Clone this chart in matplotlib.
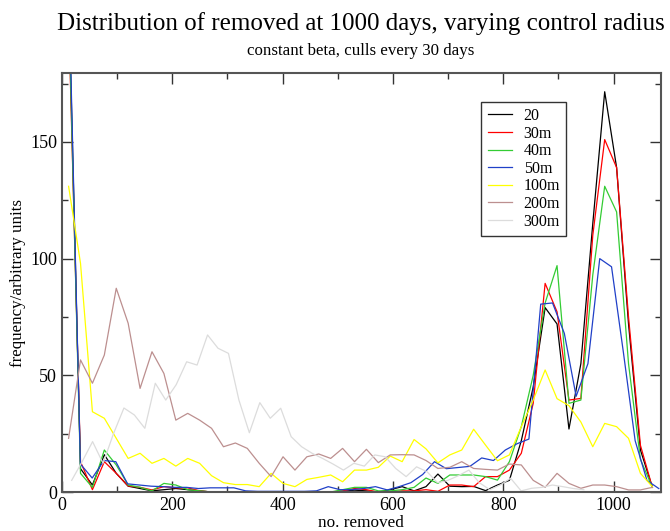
import matplotlib
matplotlib.use("Agg")
import matplotlib.pyplot as plt
import numpy as np
from matplotlib.ticker import MultipleLocator

plt.rcParams['font.family'] = ['Liberation Serif', 'DejaVu Serif']

# bin centres (no. removed) for each run
removed = 12 + 21.6 * np.arange(50)
removed_50m = 12 + 21.4 * np.arange(51)
removed_300m = 17.6 + 18.95 * np.arange(50)

r20 = [215, 10, 3, 16, 8, 2.5, 1.5, 0.5, 1, 1.5, 1, 0.5, 0, 0, 0, 0, 0, 0, 0, 0,
       0, 0, 0, 0.3, 0.8, 0.5, 0, 1, 2.3, 0.5, 2.3, 7.7, 2.5, 2.3, 2.4, 0.6, 3, 5, 22, 45,
       79, 72, 27, 55, 115, 171.5, 139, 72, 18, 2]
r30 = [205, 13, 1, 13, 8, 2.6, 2, 0.9, 2.3, 1.8, 1.8, 0.5, 0, 0, 0, 0, 0, 0, 0, 0,
       0, 0, 0, 0.5, 1.5, 1, 0, 0, 0.5, 0.5, 1, 0.3, 3, 3, 2.3, 6.6, 6.6, 9.4, 16.6, 38,
       89.4, 77.2, 39.4, 40.1, 110, 151, 139, 75, 20, 2]
r40 = [210, 8, 2, 18, 11.6, 3, 2, 0.5, 3.7, 3, 1, 0.5, 0, 0, 0, 0, 0, 0, 0, 0,
       0, 0, 0, 1, 2, 2, 0.5, 0.5, 1, 2, 6, 3.7, 7.3, 7.3, 7.3, 6.6, 5.1, 13, 28, 50,
       81, 97, 38, 39.4, 93, 131, 120, 55, 14, 2]
r50 = [220, 12, 6, 13.5, 13, 3.5, 3, 2.5, 2.3, 2, 2, 1.5, 1.8, 1.8, 1.8, 0.5, 0.3, 0.3, 0.3, 0.3,
       0.3, 0.5, 2.3, 1, 1, 1.5, 2.3, 0.9, 2.3, 4, 7.5, 13, 10, 10.5, 11, 14.6, 13.5, 18, 20.7, 22.7,
       80.5, 81, 68, 41, 55, 100, 96.5, 60, 22, 5, 1.5]
r100 = [131, 98, 34.4, 31.6, 23, 14.4, 16.6, 12.3, 14.4, 11.1, 14.4, 12.3, 7, 4, 3.2, 3.2, 2.3, 8, 3.7, 2.3,
        5.4, 6.3, 7.3, 4.4, 9.4, 9.4, 10.6, 15.4, 13, 22.5, 18.5, 12.5, 15.9, 18, 26.9, 20.1, 13.4, 15.9, 28, 39.4,
        52.3, 40, 37, 30, 19.4, 29.4, 28, 23, 8, 2.3]
r200 = [23, 56.6, 46.6, 58.7, 87.3, 72.3, 44.4, 60.1, 50.8, 30.8, 33.7, 30.8, 27.3, 19.4, 21, 18.7, 12.3, 6.6, 15.1, 9.4,
        15.1, 16.3, 14.4, 18.7, 13, 18.3, 12.6, 15.9, 16, 15.9, 13.5, 10.1, 10.6, 13, 10.1, 9.7, 9.4, 12, 11.6, 5,
        2, 8, 3.7, 1.6, 3, 3, 2.3, 0.9, 0.9, 2]
r300 = [5, 13, 21.6, 12.3, 25, 36, 33, 27.3, 46.6, 39.4, 46, 55.8, 54.4, 67.3, 61.6, 59.4, 39.4, 25.4, 38.3, 31.6,
        35.9, 23.7, 19.4, 16.6, 14.4, 12, 9.4, 12.3, 11.1, 15.9, 15.1, 10.1, 6.6, 10.8, 8.7, 4, 5, 7, 9.4, 4,
        1, 3, 5.9, 0.5, 1.6, 2, 3, 2.3, 1.5, 1]

series = [
    ("20", removed, r20, "#000000"),
    ("30m", removed, r30, "#ff0000"),
    ("40m", removed, r40, "#33cc33"),
    ("50m", removed_50m, r50, "#2040c8"),
    ("100m", removed, r100, "#ffff00"),
    ("200m", removed, r200, "#bc8f8f"),
    ("300m", removed_300m, r300, "#dcdcdc"),
]

fig = plt.figure(figsize=(6.7, 5.31), dpi=100)
ax = fig.add_axes([0.0925, 0.0734, 0.894, 0.789])

for label, x, y, c in series:
    ax.plot(x, y, color=c, lw=0.9, label=label)

ax.set_xlim(0, 1086)
ax.set_ylim(0, 179.5)
ax.xaxis.set_major_locator(MultipleLocator(200))
ax.xaxis.set_minor_locator(MultipleLocator(100))
ax.yaxis.set_major_locator(MultipleLocator(50))
ax.yaxis.set_minor_locator(MultipleLocator(25))
ax.tick_params(which='both', direction='in', top=True, right=True, labelsize=13, color='#333333')
ax.tick_params(which='major', length=8, width=1)
ax.tick_params(which='minor', length=4.5, width=1)
for s in ax.spines.values():
    s.set_color('#555555')
    s.set_linewidth(1.5)

leg = ax.legend(loc='upper left', bbox_to_anchor=(0.70, 0.932), fontsize=11.5, frameon=True,
                fancybox=False, edgecolor='black', labelspacing=0.1, handlelength=1.55,
                handletextpad=0.7, borderpad=0.4, borderaxespad=0)
leg.get_frame().set_linewidth(1.0)

fig.text(0.538, 0.956, "Distribution of removed at 1000 days, varying control radius",
         ha='center', va='center', fontsize=18)
fig.text(0.538, 0.904, "constant beta, culls every 30 days", ha='center', va='center', fontsize=12.2)
fig.text(0.538, 0.015, "no. removed", ha='center', va='center', fontsize=12.4)
fig.text(0.027, 0.467, "frequency/arbitrary units", ha='center', va='center', rotation=90, fontsize=12.2)

fig.savefig("out.png", dpi=100)
